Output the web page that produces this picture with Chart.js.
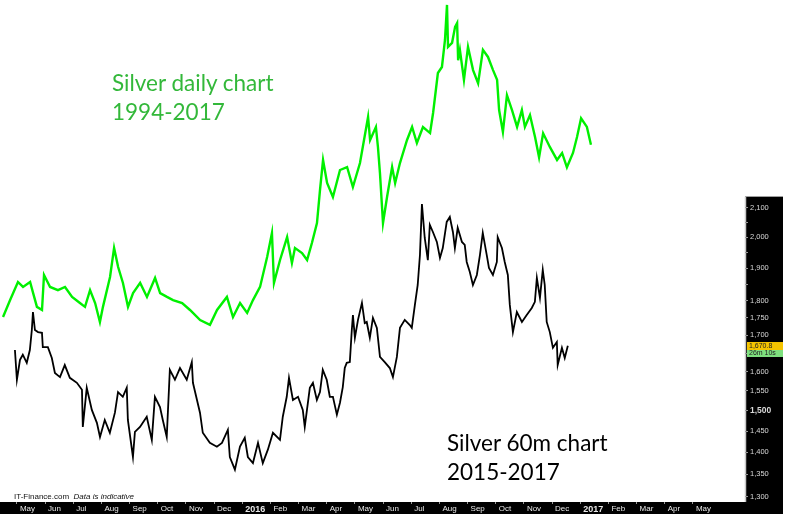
<!DOCTYPE html>
<html>
<head>
<meta charset="utf-8">
<script src="https://cdn.jsdelivr.net/npm/chart.js@4.4.1/dist/chart.umd.min.js"></script>
<style>
html, body { margin: 0; padding: 0; background: #fff; }
#wrap { position: relative; width: 797px; height: 518px; }
.note { position: absolute; font-family: Lato, "Open Sans", sans-serif; font-size: 22.5px; line-height: 29px; white-space: nowrap; }
.green { color: #33b83a; }
.black { color: #000; }
#foot { position: absolute; left: 14px; top: 492px; font-family: "Liberation Sans", Arial, sans-serif; font-size: 8px; line-height: 10px; color: #111; }
</style>
</head>
<body>
<div id="wrap">
  <canvas id="myChart" width="797" height="518"></canvas>
  <div class="note green" style="left:112px;top:68px;">Silver daily chart<br>1994-2017</div>
  <div class="note black" style="left:447px;top:428px;">Silver 60m chart<br>2015-2017</div>
  <div id="foot">IT-Finance.com&nbsp; <i>Data is indicative</i></div>
</div>
<script>
// month ticks, May 2015 = 0
var monthLabels = ['May','Jun','Jul','Aug','Sep','Oct','Nov','Dec','2016','Feb','Mar','Apr','May','Jun','Jul','Aug','Sep','Oct','Nov','Dec','2017','Feb','Mar','Apr','May'];
var yTicks = [1300,1350,1400,1450,1500,1550,1600,1650,1700,1750,1800,1850,1900,1950,2000,2050,2100];
var yMinor = [1850,1950,2050];

// silver 60m (x100), months since May 2015
var blackMonths = [-0.07,0.00,0.11,0.21,0.35,0.46,0.53,0.57,0.64,0.75,
    0.89,0.92,1.10,1.24,1.35,1.53,1.70,1.88,2.13,2.31,
    2.34,2.48,2.66,2.84,2.95,3.12,3.30,3.48,3.59,3.76,
    3.90,3.94,4.12,4.19,4.37,4.61,4.79,4.90,5.08,5.18,
    5.32,5.43,5.61,5.79,6.03,6.21,6.25,6.50,6.60,6.85,
    7.10,7.28,7.49,7.56,7.74,7.92,8.09,8.20,8.38,8.56,
    8.73,8.91,9.09,9.34,9.44,9.58,9.66,9.80,9.98,10.15,
    10.22,10.40,10.51,10.65,10.76,10.86,11.00,11.11,11.22,11.36,
    11.47,11.57,11.64,11.71,11.82,11.89,11.93,12.00,12.11,12.25,
    12.35,12.42,12.53,12.64,12.78,12.89,13.06,13.24,13.35,13.49,
    13.60,13.77,13.95,14.02,14.13,14.23,14.31,14.38,14.48,14.59,
    14.66,14.77,14.91,15.02,15.12,15.26,15.37,15.48,15.55,15.65,
    15.80,15.90,15.97,16.08,16.19,16.33,16.44,16.54,16.68,16.76,
    16.90,17.04,17.07,17.22,17.32,17.43,17.50,17.61,17.75,17.93,
    18.10,18.28,18.39,18.46,18.57,18.67,18.74,18.81,18.92,19.03,
    19.17,19.20,19.35,19.45,19.56];
var blackPrices = [1659,1579,1632,1646,1624,1659,1715,1767,1715,1709,
    1707,1667,1667,1637,1597,1586,1618,1584,1571,1553,
    1460,1558,1502,1470,1436,1477,1446,1495,1547,1535,
    1558,1477,1389,1448,1460,1485,1429,1535,1509,1477,
    1436,1605,1579,1610,1579,1626,1571,1495,1446,1422,
    1413,1422,1453,1389,1360,1413,1434,1389,1375,1422,
    1375,1406,1446,1429,1485,1535,1584,1527,1535,1502,
    1460,1558,1571,1527,1547,1605,1579,1535,1535,1490,
    1520,1560,1610,1624,1626,1715,1758,1693,1744,1794,
    1735,1738,1693,1750,1721,1640,1626,1610,1586,1640,
    1721,1744,1729,1721,1788,1848,1943,2114,1998,1926,
    2042,2018,1985,1933,1965,2052,2069,2018,1965,2032,
    1985,1975,1920,1888,1848,1879,1943,2015,1943,1901,
    1879,1920,2001,1965,1920,1879,1788,1709,1767,1738,
    1758,1779,1797,1870,1809,1895,1848,1738,1709,1665,
    1681,1618,1665,1637,1670.8];

// silver daily (USD), years
var greenYears = [1993.92,1994.20,1994.51,1994.71,1994.99,1995.11,1995.26,1995.46,1995.54,1995.78,
    1996.09,1996.37,1996.65,1996.96,1997.16,1997.36,1997.56,1997.75,1997.87,1998.15,
    1998.31,1998.47,1998.66,1998.86,1999.06,1999.34,1999.61,1999.93,2000.13,2000.40,
    2000.64,2001.00,2001.31,2001.71,2002.10,2002.38,2002.77,2003.01,2003.29,2003.57,
    2003.80,2004.08,2004.36,2004.55,2004.63,2004.87,2005.15,2005.34,2005.46,2005.74,
    2005.94,2006.13,2006.33,2006.45,2006.57,2006.73,2006.96,2007.24,2007.52,2007.75,
    2008.03,2008.35,2008.43,2008.66,2008.74,2008.82,2008.94,2009.10,2009.30,2009.42,
    2009.61,2009.89,2010.09,2010.28,2010.52,2010.80,2010.92,2011.11,2011.27,2011.39,
    2011.47,2011.51,2011.67,2011.79,2011.87,2011.91,2011.98,2012.14,2012.30,2012.50,
    2012.70,2012.89,2013.09,2013.29,2013.45,2013.53,2013.68,2013.84,2014.04,2014.24,
    2014.43,2014.55,2014.75,2014.95,2015.11,2015.27,2015.54,2015.82,2016.02,2016.21,
    2016.45,2016.61,2016.77,2017.00,2017.16];
var greenPrices = [4.26,4.86,5.59,5.38,5.59,5.13,4.61,4.50,5.90,5.38,
    5.25,5.38,4.98,4.75,4.61,5.25,4.75,4.10,4.61,5.81,
    7.28,6.28,5.55,4.61,5.13,5.55,4.98,5.77,5.13,4.98,
    4.86,4.75,4.50,4.16,4.01,4.50,4.98,4.26,4.75,4.40,
    4.86,5.38,6.79,8.17,5.55,6.63,7.92,6.48,7.28,7.00,
    6.63,7.56,8.83,11.41,14.39,12.04,10.80,13.32,13.63,11.67,
    14.06,20.09,16.81,18.59,15.92,13.01,8.83,10.80,13.63,12.04,
    14.06,16.81,18.59,16.42,18.59,17.74,20.72,28.25,29.6,36.5,
    47.9,34.6,35.7,40.4,41.6,31.2,33.8,26.8,34.6,28.9,
    26.1,33.8,32.0,28.9,26.8,21.2,17.9,23.8,21.2,18.6,
    21.2,18.6,20.4,17.2,14.7,17.7,15.9,14.4,15.2,13.6,
    15.2,17.2,19.9,18.6,16.2];

var blackData = blackMonths.map(function(m, i){ return {x: m, y: blackPrices[i]}; });
var greenData = greenYears.map(function(t, i){ return {x: t, y: greenPrices[i]}; });

var panels = {
    id: 'panels',
    beforeDraw: function(chart){
        var ctx = chart.ctx, x = chart.scales.x, y = chart.scales.y;
        var top = y.getPixelForValue(2140);
        ctx.save();
        ctx.fillStyle = '#000';
        ctx.fillRect(y.left, top, y.width, x.bottom - top);
        ctx.fillRect(0, x.top, y.right, x.height);
        ctx.strokeStyle = '#c8c8c8';
        ctx.lineWidth = 1.5;
        ctx.beginPath();
        ctx.moveTo(y.left + 0.5, top);
        ctx.lineTo(y.left + 0.5, chart.chartArea.bottom);
        ctx.stroke();
        ctx.restore();
    },
    afterDraw: function(chart){
        var ctx = chart.ctx, y = chart.scales.y;
        var last = blackPrices[blackPrices.length - 1];
        var py = Math.round(y.getPixelForValue(last));
        ctx.save();
        ctx.fillStyle = '#f5c400';
        ctx.fillRect(y.left + 2, py - 4, 36, 8);
        ctx.fillStyle = '#7ee07e';
        ctx.fillRect(y.left + 2, py + 4, 36, 7);
        ctx.font = '7px "Liberation Sans", Arial, sans-serif';
        ctx.textBaseline = 'middle';
        ctx.fillStyle = '#222';
        ctx.fillText(last.toLocaleString('en-US', {minimumFractionDigits: 1}), y.left + 4, py);
        ctx.fillText('26m 10s', y.left + 4, py + 7.5);
        ctx.restore();
    }
};

var ctx = document.getElementById('myChart');
var myChart = new Chart(ctx, {
    type: 'line',
    data: {
        datasets: [{
            data: blackData,
            xAxisID: 'x',
            yAxisID: 'y',
            borderColor: '#000',
            borderWidth: 1.8,
            pointRadius: 0,
            tension: 0
        }, {
            data: greenData,
            xAxisID: 'x2',
            yAxisID: 'y2',
            borderColor: '#00f000',
            borderWidth: 2.4,
            pointRadius: 0,
            tension: 0
        }]
    },
    options: {
        responsive: false,
        animation: false,
        layout: {
            padding: {left: 0, top: 0, right: 14, bottom: 4}
        },
        plugins: {
            legend: {display: false},
            tooltip: {enabled: false}
        },
        scales: {
            x: {
                type: 'linear',
                position: 'bottom',
                min: -0.6,
                max: 25.85,
                afterBuildTicks: function(axis){
                    axis.ticks = monthLabels.map(function(l, i){ return {value: i}; });
                },
                afterFit: function(axis){
                    axis.height = 12;
                    axis.paddingLeft = 0;
                    axis.paddingRight = 0;
                },
                border: {display: false},
                grid: {drawOnChartArea: false, drawTicks: true, tickLength: 2, color: '#999'},
                ticks: {
                    autoSkip: false,
                    maxRotation: 0,
                    align: 'start',
                    labelOffset: 3,
                    padding: 0,
                    color: '#e8e8e8',
                    font: function(c){
                        var l = c.tick ? monthLabels[c.tick.value] : '';
                        var yr = l === '2016' || l === '2017';
                        return {family: '"Liberation Sans", Arial, sans-serif', size: yr ? 9 : 8, weight: yr ? 'bold' : 'normal'};
                    },
                    callback: function(v){ return monthLabels[v]; }
                }
            },
            y: {
                type: 'logarithmic',
                position: 'right',
                min: 1289,
                max: 2966,
                afterBuildTicks: function(axis){
                    axis.ticks = yTicks.map(function(v){ return {value: v}; });
                },
                afterFit: function(axis){
                    axis.width = 38;
                    axis.paddingTop = 0;
                    axis.paddingBottom = 0;
                },
                border: {display: false},
                grid: {drawOnChartArea: false, drawTicks: true, tickLength: 3, color: '#999'},
                ticks: {
                    padding: 2,
                    color: '#d8d8d8',
                    font: function(c){
                        var b = c.tick && c.tick.value === 1500;
                        return {family: '"Liberation Sans", Arial, sans-serif', size: b ? 8.5 : 7.5, weight: b ? 'bold' : 'normal'};
                    },
                    callback: function(v){
                        return yMinor.indexOf(v) >= 0 ? '' : v.toLocaleString('en-US');
                    }
                }
            },
            x2: {
                type: 'linear',
                display: false,
                min: 1993.8,
                max: 2023.25
            },
            y2: {
                type: 'logarithmic',
                display: false,
                min: 1.0156,
                max: 49.76
            }
        }
    },
    plugins: [panels]
});
</script>
</body>
</html>
